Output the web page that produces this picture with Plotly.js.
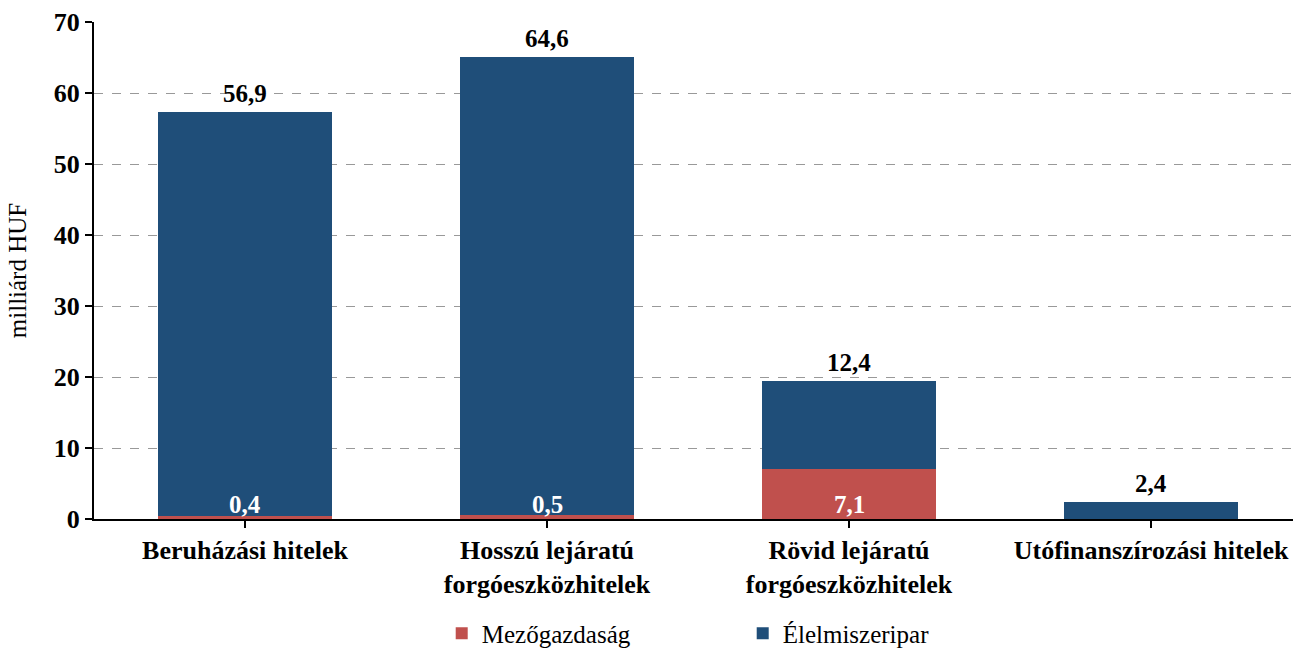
<!DOCTYPE html>
<html>
<head>
<meta charset="utf-8">
<script src="https://cdn.plot.ly/plotly-3.0.1.min.js"></script>
<style>
  html, body { margin: 0; padding: 0; background: #fff; }
  #chart { width: 1293px; height: 648px; }
</style>
</head>
<body>
<div id="chart"></div>
<script>
// categories and values (milliárd HUF)
const categories = [
  'Beruházási hitelek',
  'Hosszú lejáratú<br>forgóeszközhitelek',
  'Rövid lejáratú<br>forgóeszközhitelek',
  'Utófinanszírozási hitelek'
];
const mezogazdasag = [0.4, 0.5, 7.1, 0];
const elelmiszeripar = [56.9, 64.6, 12.4, 2.4];

const seriesNames = ['Mezőgazdaság', 'Élelmiszeripar'];
const seriesColors = ['#C0504D', '#1F4E79'];

const fmt = v => v.toFixed(1).replace('.', ',');
const font = 'Liberation Serif, Times New Roman, serif';

const xIdx = categories.map((c, i) => i);

const traces = [mezogazdasag, elelmiszeripar].map((vals, k) => ({
  type: 'bar',
  x: xIdx,
  y: vals,
  name: seriesNames[k],
  marker: { color: seriesColors[k] },
  hoverinfo: 'skip'
}));

// labels: food industry value above each bar, agriculture value (white) at the base
const annotations = [];
xIdx.forEach(i => {
  annotations.push({
    x: i, y: mezogazdasag[i] + elelmiszeripar[i],
    text: fmt(elelmiszeripar[i]),
    showarrow: false, yanchor: 'bottom', yshift: 3,
    font: { family: font, size: 25, color: '#000', weight: 'bold' }
  });
  if (mezogazdasag[i] > 0) {
    annotations.push({
      x: i, y: 0,
      text: fmt(mezogazdasag[i]),
      showarrow: false, yanchor: 'bottom', yshift: -1,
      font: { family: font, size: 25, color: '#fff', weight: 'bold' }
    });
  }
});

const layout = {
  width: 1293,
  height: 648,
  margin: { l: 94, r: 0, t: 22, b: 129 },
  barmode: 'stack',
  bargap: 0.424,
  paper_bgcolor: '#fff',
  plot_bgcolor: '#fff',
  font: { family: font, color: '#000' },
  separators: ',.',
  showlegend: true,
  legend: {
    orientation: 'h',
    x: 0.29, xanchor: 'left',
    yref: 'container', y: 0.058, yanchor: 'top',
    entrywidth: 256,
    traceorder: 'normal',
    font: { family: font, size: 25, color: '#000' }
  },
  xaxis: {
    tickmode: 'array',
    tickvals: xIdx,
    ticktext: categories,
    range: [-0.5, 3.47],
    tickson: 'boundaries',
    ticks: 'outside',
    ticklen: 7,
    tickwidth: 2,
    tickcolor: '#000',
    showline: true,
    linecolor: '#000',
    linewidth: 2,
    showgrid: false,
    zeroline: false,
    tickfont: { family: font, size: 26, color: '#000', weight: 'bold' }
  },
  yaxis: {
    range: [0, 70],
    dtick: 10,
    ticks: 'outside',
    ticklen: 7,
    tickwidth: 2,
    tickcolor: '#000',
    showline: true,
    linecolor: '#000',
    linewidth: 2,
    showgrid: true,
    gridcolor: '#999',
    griddash: 'dash',
    gridwidth: 1,
    zeroline: false,
    tickfont: { family: font, size: 26, color: '#000', weight: 'bold' },
    title: { text: 'milliárd HUF', font: { family: font, size: 25, color: '#000' }, standoff: 20 }
  },
  annotations: annotations
};

Plotly.newPlot('chart', traces, layout, { displayModeBar: false, staticPlot: true });
</script>
</body>
</html>
